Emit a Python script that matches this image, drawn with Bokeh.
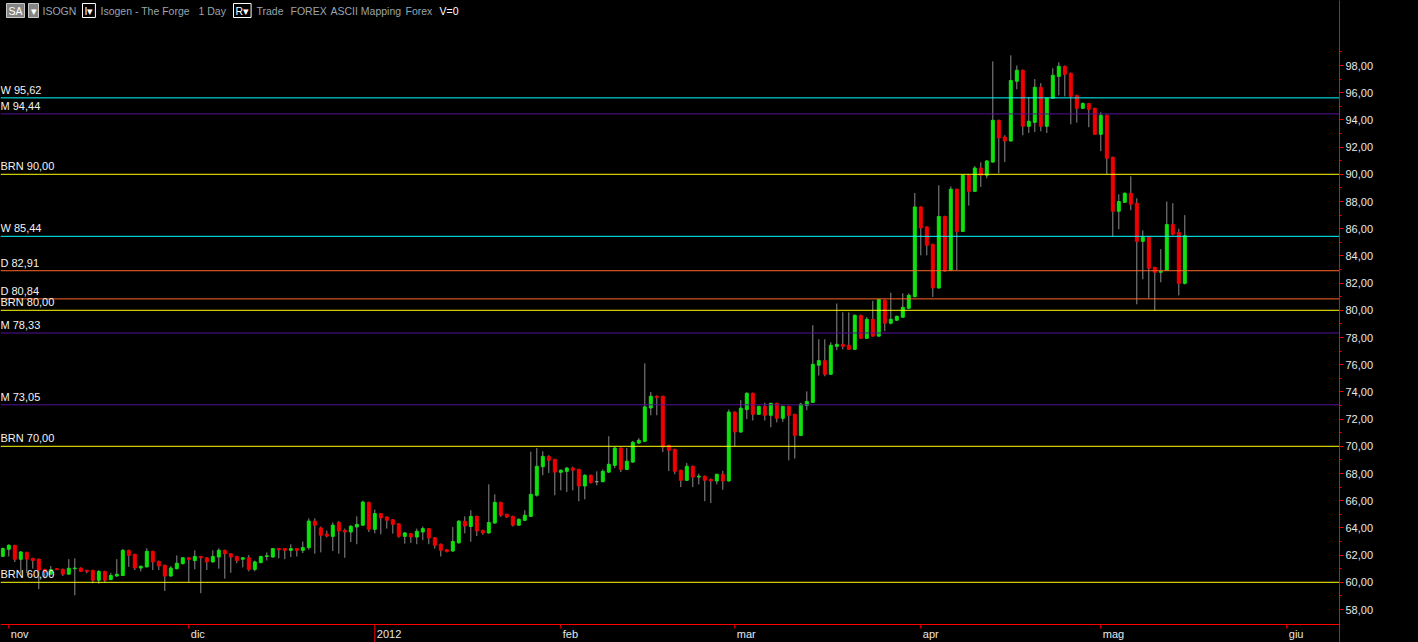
import pandas as pd
from bokeh.plotting import figure
from bokeh.models import ColumnDataSource, FixedTicker, Label, Range1d
from bokeh.core.properties import value
from bokeh.embed import file_html
from bokeh.resources import INLINE

# ---------------- data ----------------
start_date = "2011-10-31"

opens = [
    61.91, 62.43, 62.72, 61.69, 62.20, 61.76, 61.70, 60.95, 60.60, 61.00,
    60.96, 60.60, 61.00, 61.05, 60.88, 60.88, 60.15, 60.80, 60.20, 60.46,
    60.50, 62.35, 62.06, 61.05, 61.13, 62.28, 61.54, 61.25, 60.46, 61.00,
    61.38, 61.80, 61.60, 61.90, 61.80, 61.50, 61.86, 62.35, 62.10, 61.90,
    61.70, 61.80, 60.95, 61.45, 61.90, 61.86, 62.48, 62.48, 62.35, 62.48,
    62.35, 62.55, 64.50, 64.00, 63.55, 63.38, 64.40, 63.82, 63.70, 64.07,
    64.20, 65.88, 63.90, 65.05, 64.80, 64.60, 64.30, 63.38, 63.58, 63.33,
    63.70, 63.95, 63.28, 62.80, 62.40, 62.30, 62.90, 64.49, 64.10, 64.85,
    63.82, 63.63, 64.36, 65.88, 65.00, 64.85, 64.20, 64.56, 64.85, 66.40,
    68.50, 69.26, 69.04, 68.09, 68.16, 68.40, 68.30, 67.08, 67.87, 67.40,
    67.40, 68.10, 68.60, 69.87, 68.30, 68.84, 70.24, 70.37, 72.82, 73.68,
    73.68, 70.07, 69.78, 68.24, 67.50, 68.53, 67.74, 67.80, 67.57, 67.45,
    67.94, 67.45, 72.52, 71.05, 72.70, 73.90, 72.35, 72.94, 72.28, 73.16,
    72.06, 72.94, 72.35, 70.80, 73.00, 73.23, 75.96, 76.30, 75.30, 77.35,
    77.50, 77.43, 77.13, 79.63, 77.94, 79.34, 78.10, 80.74, 79.05, 79.27,
    79.49, 80.15, 81.00, 87.60, 86.13, 84.85, 81.64, 86.90, 82.94, 88.90,
    85.80, 89.93, 88.75, 90.46, 89.93, 90.90, 93.97, 92.74, 92.45, 96.84,
    97.65, 93.53, 93.82, 96.40, 93.53, 95.60, 97.20, 97.94, 97.43, 95.80,
    94.85, 95.20, 94.85, 92.94, 94.34, 91.25, 87.28, 87.94, 88.60, 87.87,
    85.07, 85.37, 83.16, 82.80, 82.94, 86.30, 85.73, 81.98,
]
highs = [
    62.55, 62.80, 62.75, 62.30, 62.25, 61.80, 61.75, 61.00, 61.20, 61.05,
    61.00, 61.70, 61.76, 61.10, 60.92, 60.92, 60.90, 60.85, 60.70, 61.70,
    62.45, 62.40, 62.10, 61.22, 62.50, 62.32, 61.60, 61.30, 61.20, 61.98,
    61.85, 61.85, 62.35, 61.95, 61.85, 62.35, 62.50, 62.40, 62.15, 61.95,
    61.85, 62.00, 61.60, 61.95, 62.20, 62.52, 62.52, 62.52, 62.80, 62.52,
    63.00, 64.70, 64.70, 64.10, 63.80, 64.40, 64.50, 63.95, 64.20, 64.85,
    66.00, 65.92, 65.35, 65.10, 64.85, 64.65, 64.35, 63.70, 63.62, 63.95,
    64.10, 64.00, 63.32, 62.85, 62.45, 64.06, 64.56, 64.85, 65.30, 64.90,
    63.86, 67.20, 66.47, 65.92, 65.04, 64.90, 64.70, 65.30, 69.60, 69.87,
    69.63, 69.34, 69.08, 68.30, 68.48, 68.50, 68.35, 67.95, 67.92, 68.16,
    68.30, 70.74, 69.95, 69.92, 69.87, 70.40, 70.60, 76.10, 74.00, 73.75,
    73.72, 70.12, 69.82, 68.28, 68.77, 68.58, 67.99, 67.85, 67.63, 67.99,
    68.20, 72.70, 72.56, 73.40, 73.97, 73.95, 72.98, 73.20, 73.20, 73.20,
    72.98, 72.98, 72.40, 73.20, 74.04, 78.90, 77.87, 77.87, 77.65, 80.50,
    79.85, 79.85, 79.70, 79.68, 79.50, 80.70, 80.85, 80.78, 81.30, 79.60,
    81.25, 81.25, 88.63, 87.65, 86.17, 84.90, 89.19, 86.95, 89.10, 88.95,
    89.97, 89.97, 90.60, 90.88, 91.05, 98.30, 94.02, 92.87, 98.75, 98.00,
    97.70, 95.68, 97.00, 96.70, 95.66, 97.80, 98.24, 98.00, 97.48, 95.85,
    95.30, 95.25, 94.90, 94.56, 94.40, 91.30, 88.53, 88.68, 89.85, 88.24,
    85.88, 85.42, 83.20, 84.50, 88.00, 87.87, 86.00, 87.00,
]
lows = [
    61.85, 61.90, 61.49, 60.66, 60.70, 61.00, 59.50, 60.30, 60.55, 60.90,
    60.46, 60.55, 59.05, 60.75, 60.66, 59.93, 59.90, 60.00, 60.15, 60.42,
    60.45, 61.13, 60.90, 60.80, 61.10, 60.90, 60.90, 59.36, 60.42, 60.95,
    61.30, 60.02, 60.96, 59.20, 60.90, 61.45, 61.00, 60.27, 60.70, 61.40,
    61.10, 60.80, 60.80, 61.40, 61.60, 61.82, 61.76, 61.70, 61.86, 61.90,
    62.15, 62.40, 62.10, 62.20, 63.30, 62.30, 62.10, 61.80, 62.96, 62.80,
    64.15, 63.70, 63.60, 63.53, 63.95, 63.58, 63.28, 62.84, 62.90, 62.80,
    63.10, 62.80, 62.48, 61.90, 62.20, 62.25, 62.85, 63.60, 62.98, 63.40,
    63.50, 63.58, 64.30, 64.80, 64.73, 64.10, 64.15, 64.50, 64.80, 66.30,
    67.87, 68.04, 66.40, 66.76, 66.64, 66.76, 65.96, 66.10, 67.26, 67.13,
    67.35, 68.05, 68.40, 68.10, 68.25, 68.80, 70.16, 70.30, 72.28, 72.28,
    69.58, 68.18, 67.94, 67.00, 67.45, 67.00, 67.20, 65.96, 65.83, 67.20,
    66.80, 67.40, 70.00, 71.00, 72.00, 71.90, 72.30, 71.90, 71.40, 71.76,
    71.80, 68.97, 69.10, 70.75, 72.65, 73.18, 75.20, 75.15, 75.25, 77.06,
    77.13, 77.08, 77.08, 77.90, 77.90, 78.05, 78.05, 78.46, 78.97, 79.22,
    79.45, 80.10, 80.95, 84.04, 84.04, 80.98, 81.60, 82.84, 82.90, 82.94,
    85.75, 87.70, 88.70, 89.07, 89.70, 90.85, 90.07, 90.90, 92.40, 96.25,
    92.87, 93.04, 93.10, 93.16, 93.04, 95.55, 95.80, 95.73, 93.68, 93.80,
    94.80, 93.46, 92.90, 91.70, 90.00, 85.44, 85.96, 87.90, 87.35, 80.44,
    82.28, 80.88, 80.00, 82.06, 82.90, 85.50, 81.10, 81.90,
]
closes = [
    62.48, 62.72, 61.69, 62.23, 61.70, 61.60, 60.90, 60.76, 60.93, 60.93,
    60.60, 61.03, 61.05, 60.80, 60.80, 60.15, 60.80, 60.15, 60.50, 60.59,
    62.35, 61.98, 61.05, 61.18, 62.28, 61.50, 61.20, 60.46, 61.05, 61.40,
    61.80, 61.67, 61.90, 61.80, 61.50, 61.90, 62.35, 62.10, 61.86, 61.60,
    61.80, 60.95, 61.50, 61.90, 61.95, 62.48, 62.40, 62.35, 62.48, 62.35,
    62.55, 64.50, 64.20, 63.46, 63.40, 64.20, 63.77, 63.70, 64.12, 64.26,
    65.90, 63.90, 65.05, 64.73, 64.56, 64.26, 63.38, 63.63, 63.33, 63.75,
    63.95, 63.26, 62.72, 62.35, 62.26, 63.00, 64.50, 64.14, 64.85, 63.77,
    63.63, 64.40, 65.88, 64.93, 64.80, 64.20, 64.63, 64.93, 66.47, 68.53,
    69.26, 68.97, 68.10, 68.24, 68.40, 68.24, 67.08, 67.87, 67.33, 67.40,
    68.16, 68.68, 69.87, 68.30, 68.90, 70.30, 70.44, 72.90, 73.68, 73.58,
    69.95, 69.70, 68.16, 67.50, 68.53, 67.74, 67.80, 67.50, 67.45, 67.94,
    67.45, 72.52, 71.05, 72.80, 73.90, 72.35, 72.94, 72.28, 73.16, 72.06,
    72.94, 72.28, 70.80, 73.10, 73.30, 76.03, 76.30, 75.30, 77.43, 77.50,
    77.35, 77.13, 79.63, 77.94, 79.34, 78.10, 80.80, 79.05, 79.34, 79.56,
    80.22, 81.10, 87.60, 86.06, 84.78, 81.64, 86.90, 82.90, 88.90, 85.80,
    89.93, 88.75, 90.46, 89.93, 90.98, 93.97, 92.67, 92.45, 96.90, 97.65,
    93.53, 93.90, 96.40, 93.53, 95.60, 97.28, 97.94, 97.35, 95.73, 94.85,
    95.20, 94.78, 92.94, 94.34, 91.18, 87.28, 88.00, 88.60, 87.80, 85.07,
    85.37, 83.09, 82.80, 82.87, 86.30, 85.60, 81.98, 85.48,
]

level_values = [95.62, 94.44, 90.00, 85.44, 82.91, 80.84, 80.00, 78.33, 73.05, 70.00, 60.00]
level_tags = ["W", "M", "BRN", "W", "D", "D", "BRN", "M", "M", "BRN", "BRN"]

month_starts = ["2011-11-01", "2011-12-01", "2012-01-01", "2012-02-01",
                "2012-03-01", "2012-04-01", "2012-05-01", "2012-06-01"]
month_labels = ["nov", "dic", "2012", "feb", "mar", "apr", "mag", "giu"]

price_ticks = list(range(58, 100, 2))
price_minor = list(range(59, 100, 2))
last_price = 85.48

# ---------------- styling constants ----------------
BG = "#000000"
UP = "#10E010"
DOWN = "#F00000"
DOJI = "#9a9a9a"
WICK = "#8c8c8c"
AXIS_RED = "#FF0000"
TXT = "#e8e8e8"
FONT = "Liberation Sans"
TAG_COLORS = {"W": "#00FFFF", "M": "#55109A", "BRN": "#FFFF00", "D": "#FF6428"}

FRAME_W, FRAME_H = 1339, 642
PX_PER_UNIT = 13.6
SX = 6.0
X0 = -2.3 / SX
X1 = X0 + FRAME_W / SX
Y1 = 98 + 65 / PX_PER_UNIT
Y0 = Y1 - FRAME_H / PX_PER_UNIT
TIME_AXIS_PX = 624       # pixel row of the time axis line
TICK_PX = 4
LABEL_PX = 633


def dx(page_x):
    return X0 + page_x / SX


def dy(page_y):
    return Y1 - page_y / PX_PER_UNIT


# ---------------- sources ----------------
dates = pd.date_range(start_date, periods=len(opens), freq="D")
xpos = [(d - dates[0]).days for d in dates]
colors = [UP if c > o else (DOWN if c < o else DOJI) for o, c in zip(opens, closes)]
src = ColumnDataSource(dict(
    x=xpos, open=opens, high=highs, low=lows, close=closes,
    top=[max(o, c) for o, c in zip(opens, closes)],
    bottom=[min(o, c) for o, c in zip(opens, closes)],
    color=colors,
))

n_lv = len(level_values)
lvl_src = ColumnDataSource(dict(
    y=level_values,
    color=[TAG_COLORS[t] for t in level_tags],
    label=[f"{t} {v:.2f}".replace(".", ",") for t, v in zip(level_tags, level_values)],
    x0=[X0] * n_lv,
    x1=[X1] * n_lv,
))

month_ts = [pd.Timestamp(m) for m in month_starts]
month_pos = [(t - dates[0]).days for t in month_ts]
tick_src = ColumnDataSource(dict(
    x=month_pos,
    label=month_labels,
    y0=[dy(TIME_AXIS_PX)] * len(month_pos),
    y1=[dy(FRAME_H) if t.month == 1 else dy(TIME_AXIS_PX + TICK_PX) for t in month_ts],
    ylab=[dy(LABEL_PX)] * len(month_pos),
))

# ---------------- figure ----------------
p = figure(
    frame_width=FRAME_W, frame_height=FRAME_H,
    x_range=Range1d(X0, X1), y_range=Range1d(Y0, Y1),
    y_axis_location="right",
    output_backend="svg", toolbar_location=None,
    min_border_left=0, min_border_top=0, min_border_right=79, min_border_bottom=0,
    background_fill_color=BG, border_fill_color=BG, outline_line_color=None,
)
p.xgrid.visible = False
p.ygrid.visible = False
p.xaxis.visible = False

p.segment(x0="x", y0="low", x1="x", y1="high", source=src, line_color=WICK, line_width=1)
p.vbar(x="x", width=0.5, top="top", bottom="bottom", source=src,
       fill_color="color", line_color="color", line_width=1)

p.segment(x0="x0", y0="y", x1="x1", y1="y", source=lvl_src, line_color="color", line_width=1)
p.text(x="x0", y="y", text="label", source=lvl_src, text_color="#f2f2f2",
       text_font=value(FONT), text_font_size="11px", text_baseline="bottom",
       x_offset=0, y_offset=-2)

# time axis drawn in the lower strip of the frame
p.segment(x0=[X0], y0=[dy(TIME_AXIS_PX)], x1=[X1], y1=[dy(TIME_AXIS_PX)],
          line_color=AXIS_RED, line_width=1.2)
p.segment(x0="x", y0="y0", x1="x", y1="y1", source=tick_src, line_color=AXIS_RED, line_width=1)
p.text(x="x", y="ylab", text="label", source=tick_src, text_color=TXT,
       text_font=value(FONT), text_font_size="11px", text_baseline="middle",
       text_align="left", x_offset=2)

# y axis (right)
ya = p.yaxis[0]
ya.ticker = FixedTicker(ticks=price_ticks, minor_ticks=price_minor)
ya.major_label_overrides = {t: f"{t},00" for t in price_ticks}
ya.axis_line_color = AXIS_RED
ya.major_tick_line_color = AXIS_RED
ya.minor_tick_line_color = AXIS_RED
ya.major_tick_out = 4
ya.major_tick_in = 0
ya.minor_tick_out = 2
ya.minor_tick_in = 0
ya.major_label_standoff = 2
ya.major_label_text_color = TXT
ya.major_label_text_font = FONT
ya.major_label_text_font_size = "11px"

# current price tag
p.add_layout(Label(
    x=X1, y=last_price, x_offset=1, text="\u25c0", text_color="#00FF00",
    text_font="DejaVu Sans", text_font_size="12px", text_baseline="middle", text_align="left",
))
p.add_layout(Label(
    x=X1, y=last_price, x_offset=10, text=f"{last_price:.2f}".replace(".", ","),
    text_color="#0a3a0a", text_font=FONT, text_font_size="12px",
    text_baseline="middle", text_align="left",
    background_fill_color="#00FF00", padding=dict(left=4, right=38, top=1, bottom=1),
))

# header strip
GRAY = "#9aa4ad"
header = [
    ("SA", 6, "#ffffff", "#848484", "#c8c8c8"),
    ("\u25be", 28, "#ffffff", "#848484", "#c8c8c8"),
    ("ISOGN", 42, GRAY, None, None),
    ("I\u25be", 82, "#ffffff", BG, "#ffffff"),
    ("Isogen - The Forge", 100, GRAY, None, None),
    ("1 Day", 198, GRAY, None, None),
    ("R\u25be", 233, "#ffffff", BG, "#ffffff"),
    ("Trade", 256, GRAY, None, None),
    ("FOREX", 290, GRAY, None, None),
    ("ASCII Mapping", 330, GRAY, None, None),
    ("Forex", 405, GRAY, None, None),
    ("V=0", 439, "#ffffff", None, None),
]
for text, rx, col, bg, border in header:
    lab = Label(x=dx(rx), y=dy(10), text=text, text_color=col, text_font=FONT,
                text_font_size="10.5px", text_baseline="middle", text_align="left")
    if bg is not None:
        lab.background_fill_color = bg
        lab.border_line_color = border
        lab.padding = dict(left=2, right=2, top=1, bottom=1)
    p.add_layout(lab)

template = "{% block preamble %}<style>html, body { background-color: #000000; }</style>{% endblock %}"
open("out.html", "w").write(file_html(p, INLINE, template=template))
